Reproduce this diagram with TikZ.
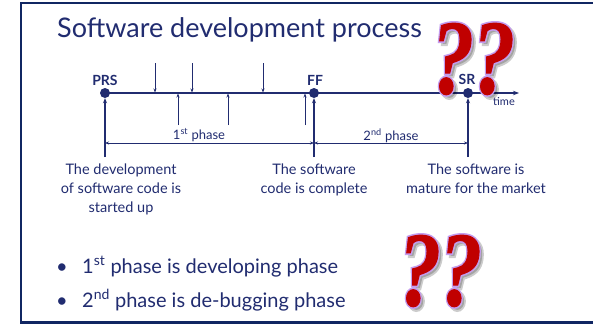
\documentclass[tikz,border=0pt]{standalone}
\usepackage{fontspec}
\setmainfont{Lato}
\newfontface\qbody[FakeBold=1]{Liberation Serif Bold Italic}
\newfontface\qrim[FakeBold=4]{Liberation Serif Bold Italic}
\usetikzlibrary{arrows.meta}
\definecolor{navy}{RGB}{33,44,112}
\definecolor{framec}{RGB}{16,38,98}
\definecolor{qred}{RGB}{192,0,0}
\definecolor{qlav}{RGB}{196,156,238}
\newcommand\qglyph[1]{\scalebox{0.8}[1]{#1\fontsize{106}{106}\selectfont ?}}
% one big question mark: soft shadow, lavender rim, red body
\newcommand\qmarkat[3]{%
  \node[qshadow] (#1s) at (#2+3,#3+3) {\qglyph\qrim};
  \node[qedge] (#1o) at (#2,#3) {\qglyph\qrim};
  \node[qfill] (#1) at (#2,#3) {\qglyph\qbody};
}
\begin{document}
\begin{tikzpicture}[x=1pt,y=-1pt,
  every node/.style={inner sep=0pt},
  dot/.style={circle,fill=navy,minimum size=10pt},
  mlabel/.style={font=\bfseries\fontsize{14}{16}\selectfont,text=navy,anchor=base},
  desc/.style={font=\fontsize{14.5}{19}\selectfont,text=navy,align=center,anchor=north},
  bullet/.style={font=\fontsize{20}{24}\selectfont,text=navy,anchor=base west},
  thinarrow/.style={draw=navy,line width=0.8pt,-{Stealth[length=4pt,width=3pt]}},
  stemarrow/.style={draw=navy,line width=1.8pt,-{Stealth[length=5pt,width=4pt]}},
  dimline/.style={draw=navy,line width=1pt,{Stealth[length=4pt,width=3pt]}-{Stealth[length=4pt,width=3pt]}},
  qshadow/.style={text=black,opacity=0.2},
  qedge/.style={text=qlav},
  qfill/.style={text=qred}]
\useasboundingbox (0,0) rectangle (593,324);
\fill[white] (0,0) rectangle (593,324);

% slide frame (open on the right)
\draw[framec,line width=1.6pt] (600,3) -- (21,3);
\draw[framec,line width=2pt] (21,2.2) -- (21,322.5);
\draw[framec,line width=2.6pt] (20,322.5) -- (600,322.5);

% title
\node[anchor=base west,font=\fontsize{27}{30}\selectfont,text=navy] (title) at (57,37) {Software development process};

% time axis
\coordinate (tend) at (519,93);
\coordinate (tstart) at (105,93);
\draw[draw=navy,line width=1.4pt,-{Stealth[length=6pt,width=4.5pt]}] (tstart) -- (tend);
\node[dot] (prs) at (105,93) {};
\node[dot] (ff) at (314,93) {};
\node[dot] (sr) at (468,93) {};
\node[mlabel] (prsl) at (105,85) {PRS};
\node[mlabel] (ffl) at (315,85) {FF};
\node[mlabel] (srl) at (467,84.5) {SR};
\node[anchor=base west,font=\fontsize{11}{12}\selectfont,text=navy] (timel) at (493,105) {time};

% events hitting the axis from above
\foreach \x [count=\i] in {155,192,263} {
  \coordinate (dtop\i) at (\x,63);
  \coordinate (dbot\i) at (\x,92.5);
  \draw[thinarrow] (dtop\i) -- (dbot\i);
}
% events hitting the axis from below
\foreach \x [count=\i] in {178,228,305} {
  \coordinate (ubot\i) at (\x,125);
  \coordinate (utop\i) at (\x,93.5);
  \draw[thinarrow] (ubot\i) -- (utop\i);
}

% milestone stems
\coordinate (prsb) at (105,157);
\coordinate (ffb) at (314,157);
\coordinate (srb) at (468,157);
\draw[stemarrow] (prsb) -- (prs);
\draw[stemarrow] (ffb) -- (ff);
\draw[stemarrow] (srb) -- (sr);

% phase extents
\coordinate (p1a) at (105,143);
\coordinate (p1b) at (314,143);
\coordinate (p2b) at (468,143);
\draw[dimline] (p1a) -- (p1b);
\draw[dimline] (p1b) -- (p2b);
\node[anchor=base,font=\fontsize{13}{15}\selectfont,text=navy] (ph1) at (199,139) {1\textsuperscript{st} phase};
\node[anchor=base,font=\fontsize{13}{15}\selectfont,text=navy] (ph2) at (391,140) {2\textsuperscript{nd} phase};

% milestone descriptions
\node[desc] (d1) at (121,164) {The development\\of software code is\\started up};
\node[desc] (d2) at (314,164) {The software\\code is complete};
\node[desc] (d3) at (476,164) {The software is\\mature for the market};

% bullet list
\node[bullet] (b1dot) at (56,273) {\textbullet};
\node[bullet] (b1) at (82,273) {1\textsuperscript{st} phase is developing phase};
\node[bullet] (b2dot) at (56,307) {\textbullet};
\node[bullet] (b2) at (82,307) {2\textsuperscript{nd} phase is de-bugging phase};

% question marks
\qmarkat{qa}{453}{59}
\qmarkat{qb}{494}{59}
\qmarkat{qc}{420}{271}
\qmarkat{qd}{461}{271}
\end{tikzpicture}
\end{document}
